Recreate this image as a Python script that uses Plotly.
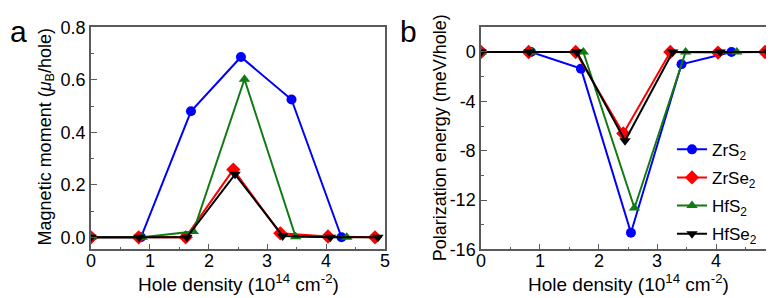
import plotly.graph_objects as go

# ---- data ----
names = ["ZrS<sub>2</sub>", "ZrSe<sub>2</sub>", "HfS<sub>2</sub>", "HfSe<sub>2</sub>"]
x_zrs2 = [0, 0.85, 1.70, 2.55, 3.41, 4.26]
x_zrse2 = [0, 0.81, 1.61, 2.42, 3.22, 4.03, 4.83]
x_hfs2 = [0, 0.87, 1.74, 2.61, 3.48, 4.35]
x_hfse2 = [0, 0.82, 1.63, 2.45, 3.26, 4.07, 4.88]

m_zrs2 = [0, 0, 0.48, 0.687, 0.525, 0]
m_zrse2 = [0, 0, 0, 0.258, 0.015, 0.003, 0]
m_hfs2 = [0, 0, 0.022, 0.602, 0.002, 0]
m_hfse2 = [0, 0, 0, 0.24, 0.005, 0, 0]

e_zrs2 = [0, 0, -1.35, -14.65, -1.0, 0]
e_zrse2 = [0, 0, 0, -6.6, 0, -0.05, 0]
e_hfs2 = [0, 0, 0, -12.65, 0, 0]
e_hfse2 = [0, 0, 0, -7.2, 0, 0, 0]

x_ticks = [0, 1, 2, 3, 4, 5]
x_ticktext = ["0", "1", "2", "3", "4", "5"]
a_ticks = [0.0, 0.2, 0.4, 0.6, 0.8]
a_ticktext = ["0.0", "0.2", "0.4", "0.6", "0.8"]
b_ticks = [-16, -12, -8, -4, 0]
b_ticktext = ["-16", "-12", "-8", "-4", "0"]

colors = ["#0000ff", "#ff0000", "#117a11", "#000000"]
symbols = ["circle", "diamond", "triangle-up", "triangle-down"]
sizes = [10, 11, 10, 10]

xs = [x_zrs2, x_zrse2, x_hfs2, x_hfse2]
ms = [m_zrs2, m_zrse2, m_hfs2, m_hfse2]
es = [e_zrs2, e_zrse2, e_hfs2, e_hfse2]

FONT = "Liberation Sans, Arial, sans-serif"
fig = go.Figure()

for i in range(4):
    fig.add_trace(go.Scatter(x=xs[i], y=ms[i], mode="lines+markers", name=names[i],
                             line=dict(color=colors[i], width=2),
                             marker=dict(symbol=symbols[i], size=sizes[i], color=colors[i]),
                             xaxis="x", yaxis="y", showlegend=False))
for i in range(4):
    fig.add_trace(go.Scatter(x=xs[i], y=es[i], mode="lines+markers", name=names[i],
                             line=dict(color=colors[i], width=2),
                             marker=dict(symbol=symbols[i], size=sizes[i], color=colors[i]),
                             xaxis="x2", yaxis="y2", showlegend=True, legendgroup="g%d" % i))

W, H = 774, 298
ydom = [1 - 248 / H, 1 - 10 / H]
axis_common = dict(showline=True, mirror=True, linecolor="#5a5a5a", linewidth=1.5,
                   ticks="inside", ticklen=6, tickwidth=1.2, tickcolor="#5a5a5a",
                   showgrid=False, zeroline=False,
                   tickfont=dict(family=FONT, size=18, color="black"))

fig.update_layout(
    width=W, height=H, margin=dict(l=0, r=0, t=0, b=0),
    plot_bgcolor="white", paper_bgcolor="white",
    font=dict(family=FONT, size=17, color="black"),
    xaxis=dict(domain=[83 / W, 377 / W], range=[0, 5], tickvals=x_ticks, showticklabels=False,
               minor=dict(dtick=0.5, ticks="inside", ticklen=3, tickcolor="#5a5a5a"),
               anchor="y", **axis_common),
    yaxis=dict(domain=ydom, range=[-0.046, 0.8], tickvals=a_ticks, ticktext=a_ticktext,
               minor=dict(dtick=0.1, ticks="inside", ticklen=3, tickcolor="#5a5a5a"),
               anchor="x", **axis_common),
    xaxis2=dict(domain=[473 / W, 767 / W], range=[0, 5], tickvals=x_ticks, showticklabels=False,
                minor=dict(dtick=0.5, ticks="inside", ticklen=3, tickcolor="#5a5a5a"),
                anchor="y2", **axis_common),
    yaxis2=dict(domain=ydom, range=[-16, 2], tickvals=b_ticks, ticktext=b_ticktext,
                minor=dict(dtick=2, ticks="inside", ticklen=3, tickcolor="#5a5a5a"),
                anchor="x2", **axis_common),
    legend=dict(x=664 / W, y=1 - 122 / H, xanchor="left", yanchor="top",
                bgcolor="rgba(0,0,0,0)", font=dict(family=FONT, size=17),
                tracegroupgap=3, itemwidth=30),
)

# x tick labels placed as text at the axis tick values
for xref in ["x", "x2"]:
    for v, t in zip(x_ticks, x_ticktext):
        fig.add_annotation(text=t, xref=xref, yref="paper", x=v, y=1 - 260 / H, showarrow=False,
                           xanchor="center", yanchor="middle",
                           font=dict(family=FONT, size=18, color="black"))

xtitle = "Hole density (10<sup>14</sup> cm<sup>-2</sup>)"
ann = [
    dict(text=xtitle, x=230 / W, y=1 - 284 / H, size=19),
    dict(text=xtitle, x=620 / W, y=1 - 284 / H, size=19),
    dict(text="Magnetic moment (<i>μ</i><sub>B</sub>/hole)", x=38 / W, y=1 - 128 / H, textangle=-90, size=18),
    dict(text="Polarization energy (meV/hole)", x=432 / W, y=1 - 129 / H, textangle=-90, size=18),
]
for a in ann:
    sz = a.pop("size")
    fig.add_annotation(xref="paper", yref="paper", showarrow=False, xanchor="center", yanchor="middle",
                       font=dict(family=FONT, size=sz, color="black"), **a)
fig.add_annotation(text="a", xref="paper", yref="paper", x=0, y=1 - 14 / H, showarrow=False,
                   xanchor="left", yanchor="middle", font=dict(family=FONT, size=30, color="black"))
fig.add_annotation(text="b", xref="paper", yref="paper", x=390 / W, y=1 - 14 / H, showarrow=False,
                   xanchor="left", yanchor="middle", font=dict(family=FONT, size=30, color="black"))

fig.write_html("out.html")
